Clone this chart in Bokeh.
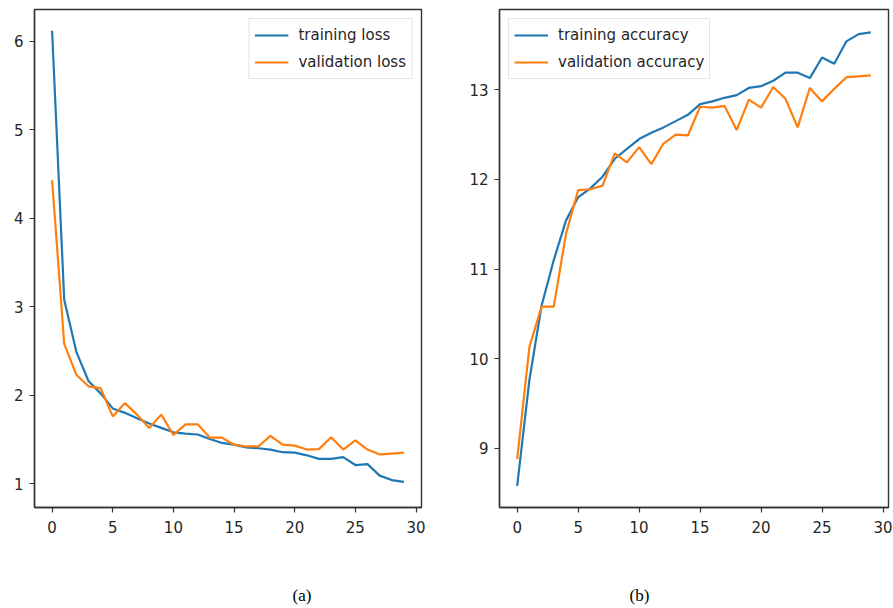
from bokeh.plotting import figure
from bokeh.layouts import row
from bokeh.models import Range1d, FixedTicker, Title
from bokeh.embed import file_html
from bokeh.resources import INLINE

epochs = list(range(30))
train_loss = [6.12, 3.08, 2.49, 2.16, 2.02, 1.85, 1.80, 1.74, 1.68, 1.63,
              1.58, 1.565, 1.555, 1.505, 1.46, 1.44, 1.41, 1.40, 1.385, 1.355,
              1.35, 1.32, 1.28, 1.28, 1.30, 1.21, 1.22, 1.09, 1.04, 1.02]
val_loss = [4.43, 2.58, 2.23, 2.10, 2.08, 1.76, 1.91, 1.78, 1.63, 1.78,
            1.55, 1.67, 1.67, 1.52, 1.52, 1.44, 1.42, 1.42, 1.54, 1.44,
            1.43, 1.385, 1.39, 1.525, 1.385, 1.49, 1.385, 1.33, 1.34, 1.35]
train_acc = [8.58, 9.76, 10.59, 11.10, 11.54, 11.80, 11.90, 12.03, 12.23, 12.34,
             12.45, 12.52, 12.58, 12.65, 12.72, 12.84, 12.87, 12.91, 12.94, 13.02,
             13.04, 13.10, 13.19, 13.19, 13.13, 13.36, 13.29, 13.54, 13.62, 13.64]
val_acc = [8.88, 10.13, 10.58, 10.58, 11.39, 11.88, 11.89, 11.93, 12.29, 12.19,
           12.36, 12.17, 12.40, 12.50, 12.49, 12.81, 12.80, 12.82, 12.55, 12.89,
           12.80, 13.03, 12.90, 12.58, 13.02, 12.87, 13.01, 13.14, 13.15, 13.16]
x_ticks = [0, 5, 10, 15, 20, 25, 30]
loss_ticks = [1, 2, 3, 4, 5, 6]
acc_ticks = [9, 10, 11, 12, 13]
captions = ["(a)", "(b)"]

BLUE = "#1f77b4"
ORANGE = "#ff7f0e"
FRAME = "#333333"
H = 606


def make_fig(width, border_left, border_right, yr, yticks):
    p = figure(width=width, height=H, output_backend="svg", toolbar_location=None,
               x_range=Range1d(-1.45, 30.45), y_range=Range1d(*yr))
    p.min_border_left = border_left
    p.min_border_right = border_right
    p.min_border_top = 9
    p.min_border_bottom = H - 507
    p.xgrid.visible = False
    p.ygrid.visible = False
    p.outline_line_color = FRAME
    p.outline_line_width = 1.4
    p.outline_line_alpha = 1.0
    p.background_fill_color = "white"
    p.border_fill_color = "white"
    p.xaxis.ticker = FixedTicker(ticks=x_ticks)
    p.yaxis.ticker = FixedTicker(ticks=yticks)
    for ax in (p.xaxis[0], p.yaxis[0]):
        ax.axis_line_color = FRAME
        ax.axis_line_width = 1.4
        ax.major_tick_line_color = FRAME
        ax.major_tick_line_width = 1.2
        ax.major_tick_out = 5
        ax.major_tick_in = 0
        ax.minor_tick_line_color = None
        ax.major_label_text_font = "DejaVu Sans"
        ax.major_label_text_font_size = "15px"
        ax.major_label_text_color = "#262626"
    p.xaxis.major_label_standoff = 8
    p.yaxis.major_label_standoff = 6
    return p


p1 = make_fig(460, 34, 39, (0.73, 6.36), loss_ticks)
p1.line(epochs, train_loss, line_color=BLUE, line_width=2.2, legend_label="training loss")
p1.line(epochs, val_loss, line_color=ORANGE, line_width=2.2, legend_label="validation loss")

p2 = make_fig(432, 39, 4, (8.34, 13.895), acc_ticks)
p2.line(epochs, train_acc, line_color=BLUE, line_width=2.2, legend_label="training accuracy")
p2.line(epochs, val_acc, line_color=ORANGE, line_width=2.2, legend_label="validation accuracy")

for p, loc in ((p1, "top_right"), (p2, "top_left")):
    lg = p.legend[0]
    lg.location = loc
    lg.margin = 9
    lg.padding = 5
    lg.spacing = 5
    lg.glyph_width = 34
    lg.glyph_height = 22
    lg.label_height = 22
    lg.label_standoff = 10
    lg.label_text_font = "DejaVu Sans"
    lg.label_text_font_size = "15px"
    lg.label_text_color = "#262626"
    lg.border_line_color = "#cccccc"
    lg.border_line_width = 1
    lg.background_fill_alpha = 0.8

for p, cap, off in ((p1, captions[0], 258), (p2, captions[1], 130)):
    spacer = Title(text=" ", standoff=31, text_font_size="13px")
    p.add_layout(spacer, "below")
    t = Title(text=cap, align="left", offset=off, standoff=0,
              text_font="Liberation Serif", text_font_size="17px",
              text_font_style="normal", text_color="black")
    p.add_layout(t, "below")

layout = row(p1, p2)
open("out.html", "w").write(file_html(layout, INLINE))
